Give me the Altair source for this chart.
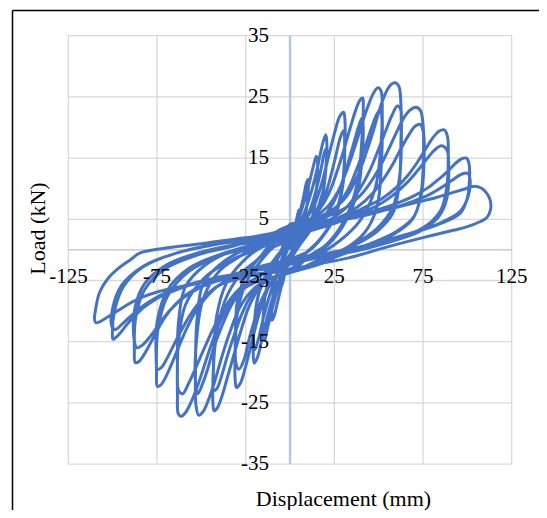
import altair as alt
import pandas as pd

# ---- axis ticks -------------------------------------------------------
x_ticks = [-125, -75, -25, 25, 75, 125]
y_ticks = [-35, -25, -15, -5, 5, 15, 25, 35]
x_domain = [-156.8, 140.4]
y_domain = [-42.5, 39.2]

# ---- hysteresis cycles (displacement mm, load kN) ----
loop01_disp = [0, 1.5, 3, 4.3, 5, 5.2, 4.6, 3, 1.5, 0, -1.5, -3, -4.3, -5, -5.2, -4.6, -3, -1.5, 0]
loop01_load = [0, 2, 4, 5.8, 6.5, 5.5, 3.5, 1.5, 0, -1, -2.5, -4, -5.5, -6, -5, -3.2, -1.2, 0, 1]

loop02_disp = [0, 2.5, 5, 7.5, 9.3, 10.2, 10.3, 9.2, 7, 4, 1, -2, -4.5, -7, -9.2, -10.2, -10.3, -9.2, -7, -4, -1, 0]
loop02_load = [1, 3, 5.5, 8.5, 11, 11.5, 10, 6.5, 3.5, 1, -1, -3, -5.5, -8.5, -11, -11.5, -10, -6.5, -3.5, -1, 1, 1.5]

loop03_disp = [0, 3, 6.5, 10, 13, 14.8, 15.5, 15.2, 13.5, 10, 5, 1, -2, -5.5, -9, -12.5, -14.5, -15.5, -15.2, -13.5, -10, -5, -1, 0]
loop03_load = [1.5, 3.5, 6.5, 10, 13.5, 15.3, 14.5, 11, 6.5, 3.2, 0.8, -1, -2.5, -5, -8.5, -12.5, -14.8, -14.5, -11, -6.5, -3.2, -0.5, 1.2, 1.8]

loop04_disp = [0, 4, 8, 12, 15.5, 18.5, 20.2, 20.8, 20, 17.5, 12, 6, 1, -3, -7, -11, -15, -18.3, -20.2, -20.8, -20, -17.5, -12, -6, -1, 0]
loop04_load = [1.8, 3.5, 6, 9.5, 13.5, 17.5, 18.8, 17, 12.5, 7.5, 3.5, 1, -1.2, -3, -5.5, -9, -13.5, -17.5, -18.5, -16.5, -12, -7, -3, -0.5, 0.9, 1.2]

loop04b_disp = [0, 5, 9.5, 13.5, 17, 19.5, 20.6, 20.3, 18.5, 13, 7, 2, -2, -6.5, -10.5, -14.5, -17.8, -19.8, -20.6, -20, -18, -12.5, -6.5, -1.5, 0]
loop04b_load = [1.2, 2.6, 5.2, 8.5, 12.5, 16, 16.6, 14, 9.5, 5, 2.2, 0, -1.5, -3.5, -6.5, -10.5, -14.5, -16.3, -15.5, -11.5, -7.5, -3.8, -1, 2.3, 3.0]

loop05_disp = [0, 5, 10, 14, 18, 21.5, 25, 28, 30.2, 31, 30.8, 29.5, 25, 17, 9, 2, -4, -10, -14, -18, -21.5, -25, -28, -30.2, -31, -30.8, -29.5, -25, -17, -9, -2, 0]
loop05_load = [3.0, 4.0, 5.5, 7.5, 11, 15, 19, 21.8, 22.5, 21, 16, 10.5, 5.5, 1.8, -0.5, -2.8, -4.0, -5, -7.5, -11, -15, -19, -21.8, -22.5, -21, -16, -10, -5.5, -2, 0.5, 1.3, 1.8]

loop05b_disp = [0, 7, 13, 18, 22, 25.5, 28.5, 30.3, 30.8, 30, 26, 18, 10, 3, -3, -9, -15, -19.5, -23, -26, -28.8, -30.5, -30.8, -29.8, -25.5, -18, -10, -3, 0]
loop05b_load = [1.8, 3.0, 5, 7.5, 11, 15, 18.5, 19.5, 17, 11, 6, 2, -0.3, -1.2, -2.2, -4.8, -7.5, -11, -14.5, -18, -19.5, -18.5, -14, -8.5, -4.5, -1.5, 0.8, 2.6, 3.4]

loop06_disp = [0, 6, 12, 17, 22, 26.5, 30.5, 34, 37, 39.5, 41, 41.3, 40.5, 38, 31, 21, 11, 3, -5, -12, -18, -23.5, -28, -32, -35.5, -38.5, -41, -42.8, -43.5, -43.2, -41.5, -36, -27, -17, -7, 0]
loop06_load = [3.4, 4.2, 5.2, 6.8, 9.3, 12.8, 16.5, 20, 22.8, 24.5, 24.8, 23.5, 18, 11, 5, 1, -1, -3.0, -4.0, -4.8, -6.5, -9.5, -13.5, -17.5, -21, -24, -25.8, -26.3, -25, -19, -11, -5.5, -2, 0.3, 1.3, 2.0]

loop06b_disp = [0, 9, 17, 23, 28, 32, 35.5, 38.5, 40.5, 41.2, 40.8, 38.5, 32, 22, 12, 3, -6, -14, -21, -26.5, -31, -35, -38.5, -41.3, -43, -43.3, -42, -37, -28, -17, -7, 0]
loop06b_load = [2.0, 3.0, 4.8, 7, 10, 13.5, 17, 20, 21.5, 20.5, 16, 10, 5, 1, -0.8, -1.4, -2.6, -4.5, -7, -10, -13.5, -17, -20.5, -22.7, -23, -21, -15, -8.5, -4, -1.2, 2.6, 3.8]

loop07_disp = [0, 7, 14, 21, 27, 32, 36.5, 40.5, 44, 47, 49.5, 51.3, 52, 51.5, 49, 42, 30, 17, 5, -5, -14, -22, -28.5, -34, -38.5, -42.5, -46, -49, -51.5, -53, -53.3, -52.5, -49, -40, -28, -15, -4, 0]
loop07_load = [3.8, 4.4, 5.4, 7, 9.5, 13, 16.8, 20.5, 23.5, 25.6, 26.5, 26, 22, 14, 7, 2.8, 0, -1.5, -3.2, -4.2, -5, -6.8, -9.5, -13.5, -17.5, -21.5, -24.5, -26.4, -27, -25.5, -19.5, -11.5, -5.5, -2.5, -0.3, 0.8, 1.6, 2.2]

loop07b_disp = [0, 10, 19, 27, 33, 38, 42.5, 46, 49, 51, 51.8, 51.2, 48, 40, 28, 15, 4, -7, -17, -26, -33, -38.5, -43, -46.5, -49.5, -52, -53.2, -52.8, -49, -40, -28, -15, -4, 0]
loop07b_load = [2.2, 3.4, 5, 7.3, 10, 13.5, 17, 20, 22.2, 23, 21.5, 17, 10, 5, 1.5, -0.8, -1.4, -2.4, -4.2, -6, -9, -12.5, -16, -19.5, -22, -23.5, -22, -15, -8, -3.5, -1, 1.5, 3.2, 4.2]

loop08_disp = [0, 9, 18, 26, 32.5, 38, 42.5, 46.5, 50, 53, 56, 59, 61.3, 62.5, 62.5, 61.5, 58, 49, 35, 20, 6, -6, -17, -27, -34.5, -40.5, -45, -49, -52.5, -56, -59, -61.5, -63, -63.5, -63, -59, -48, -34, -18, -5, 0]
loop08_load = [4.2, 4.8, 5.6, 7, 9, 12, 15.5, 19, 22.5, 25, 26.7, 27.3, 26.8, 24, 17, 10.5, 6, 3, 0.5, -2.0, -3.2, -4.2, -5, -6.5, -9, -12.5, -16, -19.5, -22.5, -25, -26.6, -27.2, -26.8, -23.5, -15.5, -9, -4.5, -1.8, 0.2, 1.8, 2.6]

loop08b_disp = [0, 12, 23, 32, 39, 45, 50, 54, 57.5, 60.5, 62.3, 62.8, 62, 58, 49, 35, 20, 6, -7, -19, -29, -37, -43.5, -49, -53.5, -57.5, -60.5, -62.8, -63.5, -62.8, -59, -48, -34, -18, -5, 0]
loop08b_load = [2.6, 3.5, 5, 7, 9.8, 13, 16.5, 19.5, 22, 23.5, 23, 19, 12.5, 7, 3.5, 0.8, -1, -1.5, -2.6, -4.6, -6.5, -9.5, -13, -16.5, -19.5, -22, -23.5, -23, -19, -11.5, -6, -2.5, -0.3, 1.2, 3.4, 4.0]

loop09_disp = [0, 11, 22, 32, 40, 46.5, 52, 56.5, 60.5, 64, 67.5, 71, 73.5, 75, 75.2, 74, 70, 60, 45, 28, 10, -5, -18, -30, -40, -47.5, -53.5, -58.5, -63, -67, -70.5, -73, -74.8, -75.3, -74.5, -69, -57, -40, -22, -6, 0]
loop09_load = [4.0, 4.6, 5.6, 7, 9, 11.5, 14.3, 17, 19.5, 21.5, 22.8, 23.3, 22.8, 20.5, 15, 9.5, 5.5, 3, 1, -0.6, -2.6, -3.5, -4, -4.8, -5.8, -7.8, -10.2, -13, -16, -18.8, -21, -22.1, -22.3, -20, -13, -7.5, -3.5, -1, 0.5, 2.4, 3.0]

loop09b_disp = [0, 14, 27, 38, 46.5, 53, 58.5, 63, 67, 70.5, 73.5, 75.3, 75.5, 74, 69, 58, 42, 25, 8, -7, -21, -33, -42.5, -50, -56, -61, -65.5, -69.5, -72.5, -74.8, -75.5, -74.8, -69, -57, -40, -22, -6, 0]
loop09b_load = [3.0, 4.2, 5.2, 7, 9.2, 11.7, 14.3, 16.8, 18.8, 20.2, 20.5, 19, 14, 9, 5, 2.5, 0.5, -0.6, -1.4, -2.2, -3.6, -4.7, -6.2, -8.2, -10.5, -13, -15.5, -17.8, -19.2, -19.5, -17.5, -11.5, -6.5, -3, -0.8, 0.6, 1.5, 2.2]

loop10_disp = [0, 14, 28, 41, 52, 60, 66.5, 72, 76.5, 80.5, 84, 87, 88.8, 89.2, 88.5, 85, 75, 57, 37, 15, -4, -21, -37, -49, -58, -65, -70.5, -75, -79, -82.5, -85.5, -87.3, -87.8, -87, -82, -70, -52, -30, -9, 0]
loop10_load = [2.2, 3.4, 5.0, 6.8, 8.4, 10.2, 12.2, 14.4, 16.5, 18.3, 19.4, 19.6, 18.5, 15, 10.5, 6.5, 3.6, 1.6, 0, -2.2, -3.4, -4, -4.8, -5.8, -7.2, -9, -11, -13.2, -15.4, -17.2, -18.3, -18.4, -16.5, -11, -6.5, -3, -0.8, 0.8, 2.8, 3.6]

loop10b_disp = [0, 17, 33, 47, 57, 65, 71.5, 77, 81.5, 85.5, 88.5, 89.5, 88.5, 84, 73, 55, 35, 14, -5, -23, -39, -51, -60, -67.5, -73.5, -78.5, -83, -86.3, -88, -87.5, -82, -70, -52, -30, -9, 0]
loop10b_load = [3.6, 4.6, 5.6, 6.9, 8.7, 10.7, 12.8, 14.8, 16.3, 17, 16.3, 13, 8.5, 5.5, 3, 1.2, -0.3, -1.0, -1.9, -3.2, -4.8, -6.2, -7.8, -9.8, -12, -14, -15.5, -16, -14.5, -9.5, -5.5, -2.5, -0.5, 0.9, 1.6, 2.2]

loop11_disp = [0, 17, 34, 50, 62, 71, 78.5, 84.5, 89.5, 93.5, 97, 99.5, 101, 101.2, 100, 96, 84, 64, 41, 16, -4, -24, -42, -57, -68, -76.5, -83, -88, -92, -95.5, -98.2, -99.8, -100.2, -99, -94, -83, -65, -40, -12, 0]
loop11_load = [2.2, 3.6, 5.2, 6.6, 7.8, 9, 10.3, 11.7, 13, 14.2, 14.9, 15, 14, 11.5, 8.5, 6, 4.2, 2.3, 0.5, -1.2, -2.6, -3.6, -4.7, -5.8, -7, -8.2, -9.5, -10.9, -12.2, -13.5, -14.3, -14.6, -13.5, -10, -6, -2.8, -0.6, 1, 2.6, 3.2]

loop11b_disp = [0, 20, 39, 56, 69, 79, 86.5, 92.5, 97, 100.3, 101.5, 100.5, 96, 84, 64, 41, 16, -4, -25, -44, -59, -70, -78.5, -85, -90.5, -95, -98.5, -100.5, -100, -95, -83, -65, -40, -12, 0]
loop11b_load = [3.2, 4.4, 5.4, 6.7, 7.9, 9.1, 10.4, 11.6, 12.4, 12.5, 11.5, 8.8, 6.3, 4.3, 2.4, 0.6, -0.8, -1.8, -3.6, -4.7, -5.8, -7, -8.3, -9.6, -11, -12.2, -13, -12.5, -9.5, -5.8, -2.7, -0.6, 1, 1.8, 2.4]

loop12_disp = [0, 20, 40, 58, 72, 83, 92, 99, 104, 108.5, 111.5, 113, 113, 111, 107, 100, 92, 75, 55, 33, 12, -8, -28, -47, -62, -74, -84, -92, -98.5, -103.5, -107, -109.5, -110.3, -109.8, -107.5, -103, -97.5, -90, -84.5, -70, -50, -25, 0]
loop12_load = [2.4, 4.0, 5.6, 6.8, 7.8, 8.6, 9.4, 10, 10.4, 10, 9, 8, 6.5, 5.3, 4.6, 3.8, 3.2, 2, 0.5, -1.3, -2.5, -3.5, -4.4, -5.2, -6, -6.8, -7.8, -9, -10.2, -11.1, -11.7, -11.9, -11.3, -10, -7, -4.8, -3.2, -1.6, -0.5, 0.3, 1, 2, 2.5]

loops = [
    (loop01_disp, loop01_load), (loop02_disp, loop02_load), (loop03_disp, loop03_load),
    (loop04_disp, loop04_load), (loop04b_disp, loop04b_load),
    (loop05_disp, loop05_load), (loop05b_disp, loop05b_load),
    (loop06_disp, loop06_load), (loop06b_disp, loop06b_load),
    (loop07_disp, loop07_load), (loop07b_disp, loop07b_load),
    (loop08_disp, loop08_load), (loop08b_disp, loop08b_load),
    (loop09_disp, loop09_load), (loop09b_disp, loop09b_load),
    (loop10_disp, loop10_load), (loop10b_disp, loop10b_load),
    (loop11_disp, loop11_load), (loop11b_disp, loop11b_load),
    (loop12_disp, loop12_load),
]

rows = []
for n, (d, f) in enumerate(loops, start=1):
    assert len(d) == len(f), n
    for a, b in zip(d, f):
        rows.append({"cycle": n, "disp": a, "load": b, "seq": len(rows)})
curve = pd.DataFrame(rows)

FONT = "Liberation Serif, Times New Roman, Times, serif"
xs = alt.Scale(domain=x_domain, nice=False, zero=False)
ys = alt.Scale(domain=y_domain, nice=False, zero=False)

frame_axis_common = dict(
    domain=True, domainColor="black", domainWidth=1.5, ticks=False, labels=False,
    grid=False, titleFont=FONT, titleFontSize=22, titleFontWeight="normal",
    titleColor="black", titleAlign="center", titleBaseline="alphabetic",
)
x_axis = alt.Axis(orient="top", title="Displacement (mm)", titleX=331, titleY=495,
                  **frame_axis_common)
y_axis = alt.Axis(orient="left", title="Load (kN)", titleX=32, titleY=218, titleAngle=270,
                  **frame_axis_common)

xt = pd.DataFrame({"v": x_ticks, "label": [str(v) for v in x_ticks]})
yt = pd.DataFrame({"v": y_ticks, "label": [str(v) for v in y_ticks]})
zero = pd.DataFrame({"v": [0]})

grid_x = alt.Chart(xt).mark_rule(color="#d9d9d9", strokeWidth=1.3).encode(
    x=alt.X("v:Q", scale=xs, axis=x_axis),
    y=alt.YDatum(min(y_ticks), scale=ys, axis=y_axis),
    y2=alt.Y2Datum(max(y_ticks)),
)
grid_y = alt.Chart(yt).mark_rule(color="#d9d9d9", strokeWidth=1.3).encode(
    y=alt.Y("v:Q", scale=ys, axis=y_axis),
    x=alt.XDatum(min(x_ticks), scale=xs, axis=x_axis),
    x2=alt.X2Datum(max(x_ticks)),
)
h_axis = alt.Chart(zero).mark_rule(color="#bfbfbf", strokeWidth=1.4).encode(
    y=alt.Y("v:Q", scale=ys, axis=y_axis),
    x=alt.XDatum(min(x_ticks), scale=xs, axis=x_axis),
    x2=alt.X2Datum(max(x_ticks)),
)
v_axis = alt.Chart(zero).mark_rule(color="#b4c7e7", strokeWidth=2.5).encode(
    x=alt.X("v:Q", scale=xs, axis=x_axis),
    y=alt.YDatum(min(y_ticks), scale=ys, axis=y_axis),
    y2=alt.Y2Datum(max(y_ticks)),
)

curve_layer = alt.Chart(curve).mark_line(
    color="#4472c4", strokeWidth=3, interpolate="catmull-rom"
).encode(
    x=alt.X("disp:Q", scale=xs, axis=x_axis),
    y=alt.Y("load:Q", scale=ys, axis=y_axis),
    order="seq:Q",
)

x_labels = alt.Chart(xt).mark_text(
    font=FONT, fontSize=21, color="black", align="center", baseline="alphabetic", dy=33
).encode(
    x=alt.X("v:Q", scale=xs, axis=x_axis),
    y=alt.YDatum(0, scale=ys, axis=y_axis),
    text="label:N",
)
y_labels = alt.Chart(yt).mark_text(
    font=FONT, fontSize=21, color="black", align="right", baseline="middle", dx=-21
).encode(
    y=alt.Y("v:Q", scale=ys, axis=y_axis),
    x=alt.XDatum(0, scale=xs, axis=x_axis),
    text="label:N",
)

chart = alt.layer(
    grid_x, grid_y, h_axis, v_axis, curve_layer, x_labels, y_labels
).properties(
    width=527, height=500,
    padding={"left": 4, "top": 2, "right": 0, "bottom": 0},
    autosize="none",
    background="white",
).configure_view(stroke=None)

chart.save("out.html", embed_options={"renderer": "svg", "actions": False})
